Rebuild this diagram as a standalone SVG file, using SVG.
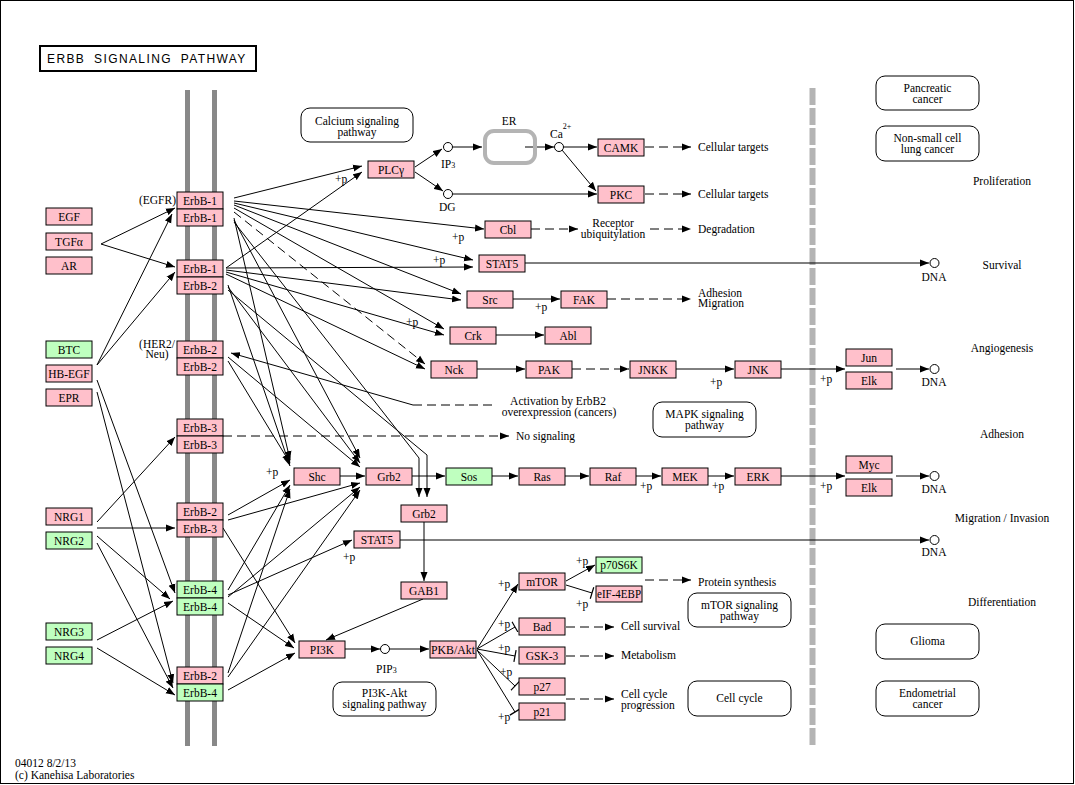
<svg xmlns="http://www.w3.org/2000/svg" width="1075" height="785" viewBox="0 0 1075 785">
<defs>
<marker id="ah" markerUnits="userSpaceOnUse" markerWidth="10" markerHeight="8" refX="9" refY="4" orient="auto"><path d="M0,0.5 L9,4 L0,7.5 z" fill="#000"/></marker>
<marker id="tb" markerUnits="userSpaceOnUse" markerWidth="4" markerHeight="12" refX="2" refY="6" orient="auto"><path d="M2,0 L2,12" stroke="#000" stroke-width="1.2"/></marker>
</defs>
<style>
text{font-family:"Liberation Serif","Times New Roman",serif;font-size:11.5px;fill:#000}
.c{text-anchor:middle}
.r{text-anchor:end}
.n rect{stroke:#000;stroke-width:1}
.p{fill:#ffc0cb}
.g{fill:#bfffbf}
.w{fill:#fff;stroke:#000;stroke-width:1}
.e{fill:none;stroke:#000;stroke-width:1}
.d{stroke-dasharray:9,5}
.m{marker-end:url(#ah)}
.i{marker-end:url(#tb)}
.o{fill:#fff;stroke:#000;stroke-width:1}
.t{font-family:"Liberation Sans",Arial,sans-serif;font-size:12px;letter-spacing:1.4px;word-spacing:4px}
.sub{font-size:8px}
</style>
<rect x="0" y="0" width="1075" height="785" fill="#fff"/>
<rect x="0.5" y="0.5" width="1073" height="783" fill="none" stroke="#000"/>

<g id="title"><rect x="40" y="46" width="216" height="25" fill="#fff" stroke="#000" stroke-width="2"/><text class="t" x="47" y="63">ERBB SIGNALING PATHWAY</text></g>

<g id="membrane">
<rect x="185" y="90" width="5" height="656" fill="#888"/>
<rect x="212" y="90" width="5" height="656" fill="#888"/>
</g>
<g id="nucleus-membrane"><line x1="812.5" y1="88" x2="812.5" y2="746" stroke="#b4b4b4" stroke-width="6" stroke-dasharray="17,3"/></g>

<g id="connectors">
<path class="e m" d="M101,244 L175,208"/>
<path class="e m" d="M101,244 L175,267"/>
<path class="e m" d="M97,365 L172,214"/>
<path class="e m" d="M97,365 L175,272"/>
<path class="e m" d="M97,380 L175,593"/>
<path class="e m" d="M97,392 L173,683"/>
<path class="e m" d="M97,522 L175,437"/>
<path class="e m" d="M97,528 L175,528"/>
<path class="e m" d="M97,536 L170,599"/>
<path class="e m" d="M97,543 L173,688"/>
<path class="e m" d="M97,640 L173,601"/>
<path class="e m" d="M97,648 L175,695"/>
<path class="e m" d="M234,198 L362,166"/>
<path class="e m" d="M234,201 L484,229"/>
<path class="e m" d="M234,203 L473,260"/>
<path class="e m" d="M234,205 L461,294"/>
<path class="e m" d="M234,208 L444,329"/>
<path class="e d m" d="M234,212 L425,364"/>
<path class="e m" d="M234,218 L290,460"/>
<path class="e m" d="M234,220 L360,458"/>
<path class="e m" d="M234,222 L419,458 L419,497"/>
<path class="e m" d="M226,268 L362,172"/>
<path class="e m" d="M226,268 L473,267"/>
<path class="e m" d="M226,270 L461,300"/>
<path class="e m" d="M226,272 L444,335"/>
<path class="e m" d="M226,274 L425,369"/>
<path class="e m" d="M228,285 L290,466"/>
<path class="e m" d="M228,287 L360,463"/>
<path class="e m" d="M228,290 L427,455 L427,497"/>
<path class="e m" d="M228,361 L290,463"/>
<path class="e m" d="M228,357 L360,467"/>
<path class="e m" d="M413,405 L231,353"/>
<path class="e d" d="M413,405 L492,405"/>
<path class="e d m" d="M223,436 L509,436"/>
<path class="e m" d="M228,515 L290,480"/>
<path class="e m" d="M228,520 L360,483"/>
<path class="e m" d="M223,528 L295,643"/>
<path class="e m" d="M228,590 L290,485"/>
<path class="e m" d="M228,595 L352,540"/>
<path class="e m" d="M228,597 L360,487"/>
<path class="e m" d="M228,603 L294,648"/>
<path class="e m" d="M228,673 L290,489"/>
<path class="e m" d="M228,677 L360,490"/>
<path class="e m" d="M228,690 L295,653"/>
<path class="e m" d="M415,167 L442,149"/>
<path class="e m" d="M415,172 L443,191"/>
<path class="e m" d="M452.5,147 L482,147"/>
<path class="e m" d="M525,147 L554,147"/>
<path class="e m" d="M563.5,147 L597,147"/>
<path class="e m" d="M562,150 L596,191"/>
<path class="e m" d="M452.5,194 L597,194"/>
<path class="e d m" d="M645,147 L691,147"/>
<path class="e d m" d="M645,194 L691,194"/>
<path class="e d m" d="M531,229 L578,229"/>
<path class="e d m" d="M650,229 L691,229"/>
<path class="e m" d="M525,263 L929,263"/>
<path class="e m" d="M513,299 L560,299"/>
<path class="e d m" d="M607,299 L691,299"/>
<path class="e m" d="M496,335 L544,335"/>
<path class="e m" d="M477,369 L525,369"/>
<path class="e d m" d="M572,369 L629,369"/>
<path class="e m" d="M676,369 L734,369"/>
<path class="e m" d="M781,369 L845,369"/>
<path class="e m" d="M896,369 L929,369"/>
<path class="e m" d="M340,476 L365,476"/>
<path class="e m" d="M412,476 L445,476"/>
<path class="e m" d="M492,476 L518,476"/>
<path class="e m" d="M565,476 L589,476"/>
<path class="e m" d="M636,476 L661,476"/>
<path class="e m" d="M708,476 L734,476"/>
<path class="e m" d="M781,476 L845,476"/>
<path class="e m" d="M896,476 L929,476"/>
<path class="e m" d="M424,522 L424,581"/>
<path class="e m" d="M400,540 L929,540"/>
<path class="e m" d="M423,599 L326,640"/>
<path class="e m" d="M345,649 L380,649"/>
<path class="e m" d="M389.5,649 L429,649"/>
<path class="e m" d="M477,649 L518,584"/>
<path class="e i" d="M477,649 L515,627"/>
<path class="e i" d="M477,649 L515,656"/>
<path class="e i" d="M477,650 L515,686"/>
<path class="e i" d="M477,650 L515,712"/>
<path class="e m" d="M566,581 L595,565"/>
<path class="e i" d="M566,585 L592,593"/>
<path class="e d m" d="M645,580 L691,580"/>
<path class="e d m" d="M566,627 L614,627"/>
<path class="e d m" d="M566,656 L614,656"/>
<path class="e d m" d="M566,699 L614,699"/>
</g>

<g id="compounds">
<circle class="o" cx="448" cy="147" r="4.5"/>
<circle class="o" cx="448" cy="194" r="4.5"/>
<circle class="o" cx="559" cy="147" r="4.5"/>
<circle class="o" cx="385" cy="649" r="4.5"/>
<circle class="o" cx="934.5" cy="263" r="4.5"/>
<circle class="o" cx="934.5" cy="369" r="4.5"/>
<circle class="o" cx="934.5" cy="476" r="4.5"/>
<circle class="o" cx="934.5" cy="540" r="4.5"/>
<text x="441" y="168">IP<tspan class="sub">3</tspan></text>
<text x="439" y="211">DG</text>
<text x="550" y="138">Ca<tspan class="sub" dy="-9">2+</tspan></text>
<text x="376" y="673">PIP<tspan class="sub">3</tspan></text>
<text class="c" x="934" y="281">DNA</text>
<text class="c" x="934" y="386">DNA</text>
<text class="c" x="934" y="493">DNA</text>
<text class="c" x="934" y="556">DNA</text>
</g>

<g id="ER"><rect x="485" y="131" width="50" height="32" rx="9" fill="none" stroke="#b4b4b4" stroke-width="4"/><text class="c" x="509" y="125">ER</text></g>

<g id="EGF" class="n"><rect class="p" x="46" y="208" width="46" height="17"/><text class="c" x="69" y="220.5">EGF</text></g>
<g id="TGFa" class="n"><rect class="p" x="46" y="233" width="46" height="17"/><text class="c" x="69" y="245.5">TGFα</text></g>
<g id="AR" class="n"><rect class="p" x="46" y="257" width="46" height="17"/><text class="c" x="69" y="269.5">AR</text></g>
<g id="BTC" class="n"><rect class="g" x="46" y="341" width="46" height="17"/><text class="c" x="69" y="353.5">BTC</text></g>
<g id="HB-EGF" class="n"><rect class="p" x="46" y="365" width="46" height="17"/><text class="c" x="69" y="377.5">HB-EGF</text></g>
<g id="EPR" class="n"><rect class="p" x="46" y="389" width="46" height="17"/><text class="c" x="69" y="401.5">EPR</text></g>
<g id="NRG1" class="n"><rect class="p" x="46" y="508" width="46" height="17"/><text class="c" x="69" y="520.5">NRG1</text></g>
<g id="NRG2" class="n"><rect class="g" x="46" y="532" width="46" height="17"/><text class="c" x="69" y="544.5">NRG2</text></g>
<g id="NRG3" class="n"><rect class="g" x="46" y="623" width="46" height="17"/><text class="c" x="69" y="635.5">NRG3</text></g>
<g id="NRG4" class="n"><rect class="g" x="46" y="647" width="46" height="17"/><text class="c" x="69" y="659.5">NRG4</text></g>

<g id="ErbB1-ErbB1" class="n"><rect class="p" x="177" y="192" width="46" height="17"/><text class="c" x="200" y="204.5">ErbB-1</text><rect class="p" x="177" y="209" width="46" height="17"/><text class="c" x="200" y="221.5">ErbB-1</text><text class="r" x="176" y="204">(EGFR)</text></g>
<g id="ErbB1-ErbB2" class="n"><rect class="p" x="177" y="260" width="46" height="17"/><text class="c" x="200" y="272.5">ErbB-1</text><rect class="p" x="177" y="277" width="46" height="17"/><text class="c" x="200" y="289.5">ErbB-2</text></g>
<g id="ErbB2-ErbB2" class="n"><rect class="p" x="177" y="341" width="46" height="17"/><text class="c" x="200" y="353.5">ErbB-2</text><rect class="p" x="177" y="358" width="46" height="17"/><text class="c" x="200" y="370.5">ErbB-2</text><text class="c" x="157" y="348">(HER2/</text><text class="c" x="157" y="358">Neu)</text></g>
<g id="ErbB3-ErbB3" class="n"><rect class="p" x="177" y="419" width="46" height="17"/><text class="c" x="200" y="431.5">ErbB-3</text><rect class="p" x="177" y="436" width="46" height="17"/><text class="c" x="200" y="448.5">ErbB-3</text></g>
<g id="ErbB2-ErbB3" class="n"><rect class="p" x="177" y="503" width="46" height="17"/><text class="c" x="200" y="515.5">ErbB-2</text><rect class="p" x="177" y="520" width="46" height="17"/><text class="c" x="200" y="532.5">ErbB-3</text></g>
<g id="ErbB4-ErbB4" class="n"><rect class="g" x="177" y="581" width="46" height="17"/><text class="c" x="200" y="593.5">ErbB-4</text><rect class="g" x="177" y="598" width="46" height="17"/><text class="c" x="200" y="610.5">ErbB-4</text></g>
<g id="ErbB2-ErbB4" class="n"><rect class="p" x="177" y="667" width="46" height="17"/><text class="c" x="200" y="679.5">ErbB-2</text><rect class="g" x="177" y="684" width="46" height="17"/><text class="c" x="200" y="696.5">ErbB-4</text></g>

<g id="PLCg" class="n"><rect class="p" x="368" y="161" width="46" height="17"/><text class="c" x="391" y="173.5">PLCγ</text></g>
<g id="CAMK" class="n"><rect class="p" x="598" y="139" width="46" height="17"/><text class="c" x="621" y="151.5">CAMK</text></g>
<g id="PKC" class="n"><rect class="p" x="598" y="186" width="46" height="17"/><text class="c" x="621" y="198.5">PKC</text></g>
<g id="Cbl" class="n"><rect class="p" x="485" y="221" width="46" height="17"/><text class="c" x="508" y="233.5">Cbl</text></g>
<g id="STAT5a" class="n"><rect class="p" x="479" y="255" width="46" height="17"/><text class="c" x="502" y="267.5">STAT5</text></g>
<g id="Src" class="n"><rect class="p" x="467" y="291" width="46" height="17"/><text class="c" x="490" y="303.5">Src</text></g>
<g id="FAK" class="n"><rect class="p" x="561" y="291" width="46" height="17"/><text class="c" x="584" y="303.5">FAK</text></g>
<g id="Crk" class="n"><rect class="p" x="450" y="327" width="46" height="17"/><text class="c" x="473" y="339.5">Crk</text></g>
<g id="Abl" class="n"><rect class="p" x="545" y="327" width="46" height="17"/><text class="c" x="568" y="339.5">Abl</text></g>
<g id="Nck" class="n"><rect class="p" x="431" y="361" width="46" height="17"/><text class="c" x="454" y="373.5">Nck</text></g>
<g id="PAK" class="n"><rect class="p" x="526" y="361" width="46" height="17"/><text class="c" x="549" y="373.5">PAK</text></g>
<g id="JNKK" class="n"><rect class="p" x="630" y="361" width="46" height="17"/><text class="c" x="653" y="373.5">JNKK</text></g>
<g id="JNK" class="n"><rect class="p" x="735" y="361" width="46" height="17"/><text class="c" x="758" y="373.5">JNK</text></g>
<g id="Jun" class="n"><rect class="p" x="846" y="349" width="46" height="17"/><text class="c" x="869" y="361.5">Jun</text></g>
<g id="Elk1" class="n"><rect class="p" x="846" y="372" width="46" height="17"/><text class="c" x="869" y="384.5">Elk</text></g>
<g id="Shc" class="n"><rect class="p" x="294" y="468" width="46" height="17"/><text class="c" x="317" y="480.5">Shc</text></g>
<g id="Grb2a" class="n"><rect class="p" x="366" y="468" width="46" height="17"/><text class="c" x="389" y="480.5">Grb2</text></g>
<g id="Sos" class="n"><rect class="g" x="446" y="468" width="46" height="17"/><text class="c" x="469" y="480.5">Sos</text></g>
<g id="Ras" class="n"><rect class="p" x="519" y="468" width="46" height="17"/><text class="c" x="542" y="480.5">Ras</text></g>
<g id="Raf" class="n"><rect class="p" x="590" y="468" width="46" height="17"/><text class="c" x="613" y="480.5">Raf</text></g>
<g id="MEK" class="n"><rect class="p" x="662" y="468" width="46" height="17"/><text class="c" x="685" y="480.5">MEK</text></g>
<g id="ERK" class="n"><rect class="p" x="735" y="468" width="46" height="17"/><text class="c" x="758" y="480.5">ERK</text></g>
<g id="Myc" class="n"><rect class="p" x="846" y="456" width="46" height="17"/><text class="c" x="869" y="468.5">Myc</text></g>
<g id="Elk2" class="n"><rect class="p" x="846" y="479" width="46" height="17"/><text class="c" x="869" y="491.5">Elk</text></g>
<g id="Grb2b" class="n"><rect class="p" x="401" y="505" width="46" height="17"/><text class="c" x="424" y="517.5">Grb2</text></g>
<g id="STAT5b" class="n"><rect class="p" x="354" y="531" width="46" height="17"/><text class="c" x="377" y="543.5">STAT5</text></g>
<g id="GAB1" class="n"><rect class="p" x="401" y="582" width="46" height="17"/><text class="c" x="424" y="594.5">GAB1</text></g>
<g id="PI3K" class="n"><rect class="p" x="299" y="641" width="46" height="17"/><text class="c" x="322" y="653.5">PI3K</text></g>
<g id="PKB" class="n"><rect class="p" x="430" y="641" width="46" height="17"/><text class="c" x="453" y="653.5" textLength="44" lengthAdjust="spacingAndGlyphs">PKB/Akt</text></g>
<g id="mTOR" class="n"><rect class="p" x="519" y="573" width="46" height="17"/><text class="c" x="542" y="585.5">mTOR</text></g>
<g id="p70S6K" class="n"><rect class="g" x="596" y="557" width="46" height="16"/><text class="c" x="619" y="569">p70S6K</text></g>
<g id="eIF-4EBP" class="n"><rect class="p" x="596" y="586" width="46" height="16"/><text class="c" x="619" y="598" textLength="44" lengthAdjust="spacingAndGlyphs">eIF-4EBP</text></g>
<g id="Bad" class="n"><rect class="p" x="519" y="618" width="46" height="17"/><text class="c" x="542" y="630.5">Bad</text></g>
<g id="GSK-3" class="n"><rect class="p" x="519" y="647" width="46" height="17"/><text class="c" x="542" y="659.5">GSK-3</text></g>
<g id="p27" class="n"><rect class="p" x="519" y="678" width="46" height="17"/><text class="c" x="542" y="690.5">p27</text></g>
<g id="p21" class="n"><rect class="p" x="519" y="703" width="46" height="17"/><text class="c" x="542" y="715.5">p21</text></g>

<g id="map-calcium"><rect class="w" x="301" y="108" width="112" height="34" rx="9"/><text class="c" x="357" y="125">Calcium signaling</text><text class="c" x="357" y="136">pathway</text></g>
<g id="map-mapk"><rect class="w" x="653" y="402" width="103" height="35" rx="9"/><text class="c" x="704.5" y="418">MAPK signaling</text><text class="c" x="704.5" y="429">pathway</text></g>
<g id="map-pi3k"><rect class="w" x="333" y="682" width="103" height="34" rx="9"/><text class="c" x="384.5" y="697">PI3K-Akt</text><text class="c" x="384.5" y="708">signaling pathway</text></g>
<g id="map-mtor"><rect class="w" x="688" y="593" width="103" height="34" rx="9"/><text class="c" x="739.5" y="609">mTOR signaling</text><text class="c" x="739.5" y="620">pathway</text></g>
<g id="map-cellcycle"><rect class="w" x="688" y="681" width="103" height="35" rx="9"/><text class="c" x="739.5" y="702">Cell cycle</text></g>
<g id="map-pancreatic"><rect class="w" x="876" y="76" width="103" height="34" rx="9"/><text class="c" x="927.5" y="92">Pancreatic</text><text class="c" x="927.5" y="103">cancer</text></g>
<g id="map-nsclc"><rect class="w" x="876" y="126" width="103" height="35" rx="9"/><text class="c" x="927.5" y="142">Non-small cell</text><text class="c" x="927.5" y="153">lung cancer</text></g>
<g id="map-glioma"><rect class="w" x="876" y="624" width="103" height="35" rx="9"/><text class="c" x="927.5" y="645">Glioma</text></g>
<g id="map-endometrial"><rect class="w" x="876" y="681" width="103" height="35" rx="9"/><text class="c" x="927.5" y="697">Endometrial</text><text class="c" x="927.5" y="708">cancer</text></g>

<g id="labels">
<text x="335" y="183">+p</text>
<text x="452" y="241">+p</text>
<text x="433" y="264">+p</text>
<text x="535" y="311">+p</text>
<text x="406" y="326">+p</text>
<text x="710" y="386">+p</text>
<text x="820" y="383">+p</text>
<text x="640" y="490">+p</text>
<text x="712" y="490">+p</text>
<text x="820" y="490">+p</text>
<text x="266" y="476">+p</text>
<text x="343" y="561">+p</text>
<text x="498" y="588">+p</text>
<text x="576" y="565">+p</text>
<text x="576" y="608">+p</text>
<text x="498" y="628">+p</text>
<text x="498" y="652">+p</text>
<text x="500" y="676">+p</text>
<text x="498" y="721">+p</text>
<text x="698" y="151">Cellular targets</text>
<text x="698" y="198">Cellular targets</text>
<text class="c" x="613" y="227">Receptor</text>
<text class="c" x="613" y="238">ubiquitylation</text>
<text x="698" y="233">Degradation</text>
<text x="698" y="297">Adhesion</text>
<text x="698" y="307">Migration</text>
<text class="c" x="558" y="405">Activation by ErbB2</text>
<text class="c" x="559" y="416">overexpression (cancers)</text>
<text x="516" y="440">No signaling</text>
<text x="698" y="586">Protein synthesis</text>
<text x="621" y="630">Cell survival</text>
<text x="621" y="659">Metabolism</text>
<text x="621" y="698">Cell cycle</text>
<text x="621" y="709">progression</text>
<text class="c" x="1002" y="185">Proliferation</text>
<text class="c" x="1002" y="269">Survival</text>
<text class="c" x="1002" y="352">Angiogenesis</text>
<text class="c" x="1002" y="438">Adhesion</text>
<text class="c" x="1002" y="522">Migration / Invasion</text>
<text class="c" x="1002" y="606">Differentiation</text>
<text x="15" y="767">04012 8/2/13</text>
<text x="15" y="779">(c) Kanehisa Laboratories</text>
</g>
</svg>
